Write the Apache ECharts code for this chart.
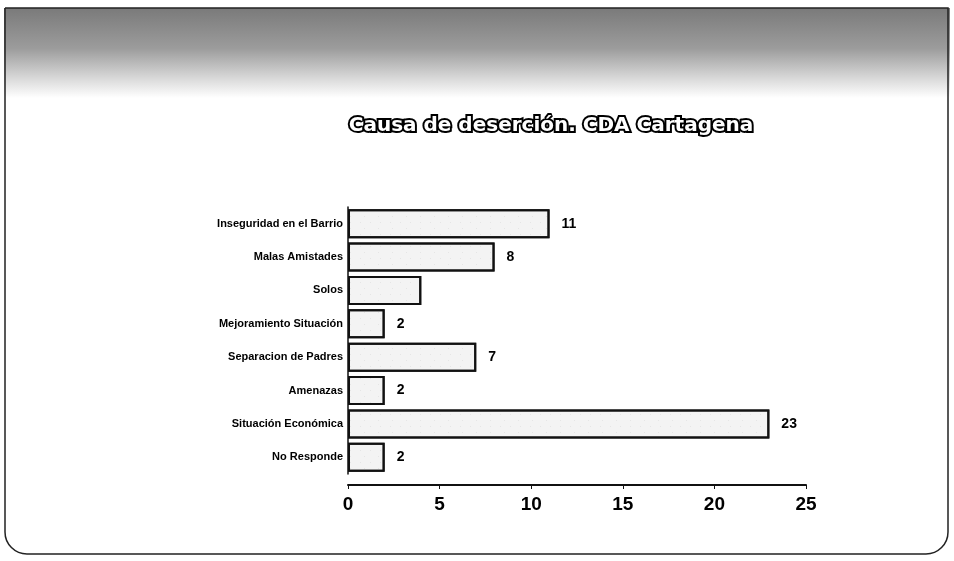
<!DOCTYPE html>
<html><head><meta charset="utf-8">
<style>html,body{margin:0;padding:0;background:#fff}#c{width:954px;height:561px}</style>
<script src="https://cdn.jsdelivr.net/npm/echarts@6/dist/echarts.min.js"></script>
</head><body><div id="c"></div>
<script>
const categories = ["Inseguridad en el Barrio","Malas Amistades","Solos","Mejoramiento Situación","Separacion de Padres","Amenazas","Situación Económica","No Responde"];
const values = [11, 8, 4, 2, 7, 2, 23, 2];
const showLabel = [true, true, false, true, true, true, true, true];
const xTicks = [0, 5, 10, 15, 20, 25];
const titleText = "Causa de deserción. CDA Cartagena";

const chart = echarts.init(document.getElementById('c'));
chart.setOption({
  backgroundColor: '#fff',
  animation: false,
  graphic: [
    { type: 'rect', shape: { x: 4, y: 8, width: 946, height: 90 }, silent: true, z: -10,
      style: { fill: new echarts.graphic.LinearGradient(0,0,0,1,[{offset:0,color:'#7a7a7a'},{offset:0.45,color:'#9c9c9c'},{offset:0.8,color:'#dcdcdc'},{offset:1,color:'#ffffff'}]) } },
    { type: 'rect', shape: { x: 5, y: 8, width: 943, height: 546, r: [0,0,22,22] }, silent: true, z: -5,
      style: { fill: 'none', stroke: '#222', lineWidth: 1.5 } }
  ],
  title: {
    text: titleText, left: 546, top: 111, textAlign: 'center',
    textStyle: { fontFamily: 'DejaVu Sans, Verdana, sans-serif', fontWeight: 'bold', fontSize: 20,
      color: '#fff', textBorderColor: '#000', textBorderWidth: 4 }
  },
  grid: { left: 348, right: 148, top: 207, bottom: 87, containLabel: false },
  xAxis: {
    type: 'value', min: 0, max: 25, interval: 5, offset: 11,
    axisLine: { show: true, lineStyle: { color: '#111', width: 2 } },
    axisTick: { show: true, length: 4, lineStyle: { color: '#111' } },
    splitLine: { show: false },
    axisLabel: { margin: 10, color: '#000', fontSize: 19, fontWeight: 'bold',
      fontFamily: 'Liberation Sans Narrow, Liberation Sans, Arial, sans-serif',
      formatter: v => xTicks.includes(v) ? String(v) : '' }
  },
  yAxis: {
    type: 'category', data: categories, inverse: true,
    axisLine: { show: true, lineStyle: { color: '#111', width: 1.5 } },
    axisTick: { show: false },
    axisLabel: { margin: 5, color: '#000', fontSize: 11, fontWeight: 'bold',
      fontFamily: 'Liberation Sans Narrow, Liberation Sans, Arial, sans-serif' }
  },
  series: [{
    type: 'bar', barWidth: 29,
    data: values.map((v, i) => ({ value: v, label: { show: showLabel[i] } })),
    itemStyle: { color: '#f3f3f3', borderColor: '#111', borderWidth: 2,
      decal: { symbol: 'rect', symbolSize: 0.5, color: 'rgba(90,90,90,0.35)', dashArrayX: [[1, 9], [1, 13]], dashArrayY: [1, 5], rotation: 0 } },
    label: { show: true, position: 'right', distance: 12, color: '#000', fontSize: 14, fontWeight: 'bold',
      fontFamily: 'Liberation Sans, Arial, sans-serif' }
  }]
});
</script>
</body></html>
